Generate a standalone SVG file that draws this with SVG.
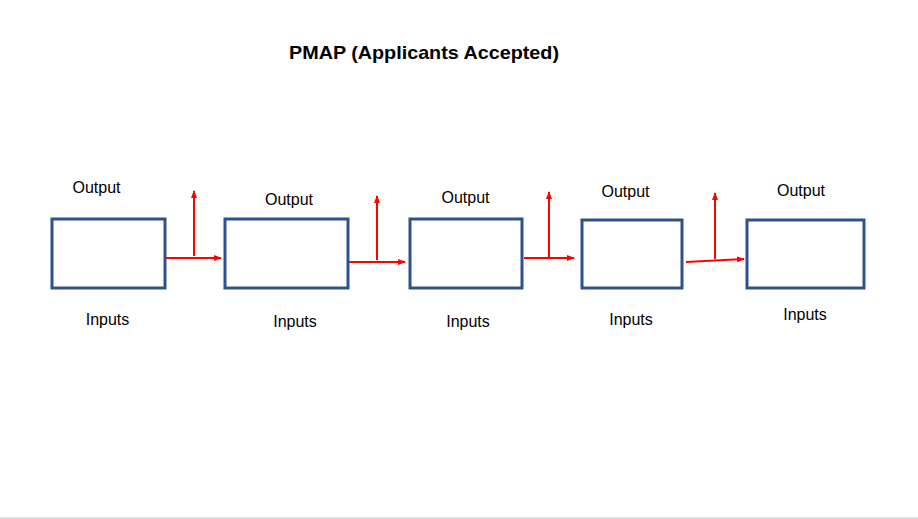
<svg xmlns="http://www.w3.org/2000/svg" width="918" height="519" viewBox="0 0 918 519">
<defs>
<style>
.box{fill:#fff;stroke:#2F528F;stroke-width:3}
.arr{fill:none;stroke:#FF0000;stroke-width:2;marker-end:url(#ah)}
.lbl{font-family:"Liberation Sans",Arial,sans-serif;font-size:16px;fill:#000;text-anchor:middle}
.title{font-family:"Liberation Sans",Arial,sans-serif;font-size:19px;font-weight:bold;fill:#000}
</style>
<marker id="ah" viewBox="0 0 8 6" refX="7" refY="3" markerWidth="8" markerHeight="6" markerUnits="userSpaceOnUse" orient="auto">
<path d="M0,0 L8,3 L0,6 Z" fill="#FF0000"/>
</marker>
</defs>
<rect width="918" height="519" fill="#fff"/>
<line x1="0" y1="518" x2="918" y2="518" stroke="#c0c0c0" stroke-width="1"/>
<text class="title" x="289" y="59" textLength="270" lengthAdjust="spacingAndGlyphs">PMAP (Applicants Accepted)</text>
<g id="node1">
<rect class="box" x="52" y="219" width="113" height="69"/>
<text class="lbl" x="96.5" y="193">Output</text>
<text class="lbl" x="107.5" y="325">Inputs</text>
</g>
<g id="node2">
<rect class="box" x="225" y="219" width="123" height="69"/>
<text class="lbl" x="289" y="205">Output</text>
<text class="lbl" x="295" y="327">Inputs</text>
</g>
<g id="node3">
<rect class="box" x="410" y="219" width="112" height="69"/>
<text class="lbl" x="465.5" y="203">Output</text>
<text class="lbl" x="468" y="327">Inputs</text>
</g>
<g id="node4">
<rect class="box" x="582" y="220" width="100" height="68"/>
<text class="lbl" x="625.5" y="197">Output</text>
<text class="lbl" x="631" y="325">Inputs</text>
</g>
<g id="node5">
<rect class="box" x="747" y="220" width="117" height="68"/>
<text class="lbl" x="801" y="196">Output</text>
<text class="lbl" x="805" y="320">Inputs</text>
</g>
<g id="connectors">
<line class="arr" x1="166" y1="258" x2="221" y2="258"/>
<line class="arr" x1="194" y1="256" x2="194" y2="191"/>
<line class="arr" x1="349" y1="262" x2="405" y2="262"/>
<line class="arr" x1="377" y1="260" x2="377" y2="196"/>
<line class="arr" x1="524" y1="258" x2="574" y2="258"/>
<line class="arr" x1="549" y1="258" x2="549" y2="192"/>
<line class="arr" x1="686" y1="262" x2="744" y2="259"/>
<line class="arr" x1="715" y1="259" x2="715" y2="193"/>
</g>
</svg>
